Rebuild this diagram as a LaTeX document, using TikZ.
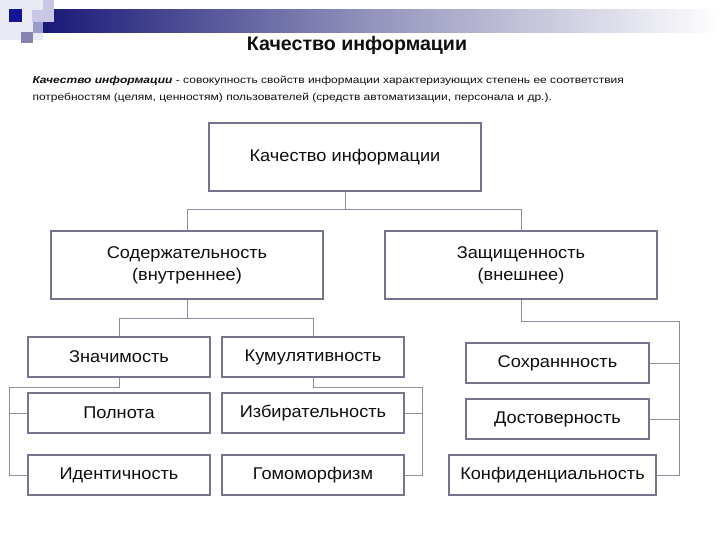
\documentclass[tikz,border=0pt]{standalone}
\usepackage{fontspec}
\setmainfont{Liberation Sans}
\newfontfamily\boxfont[FakeStretch=1.07]{Liberation Sans}
\newfontfamily\deffont[FakeStretch=1.2]{Liberation Sans}
\usetikzlibrary{positioning, calc}
\definecolor{barnavy}{RGB}{25, 25, 120}
\definecolor{barmid}{RGB}{150, 150, 190}
\definecolor{sqdark}{RGB}{20, 20, 150}
\definecolor{sqlight}{RGB}{200, 200, 228}
\definecolor{sqmid}{RGB}{155, 155, 205}
\definecolor{sqpale}{RGB}{234, 234, 245}
\definecolor{framegray}{RGB}{118, 116, 138}
\definecolor{wiregray}{RGB}{140, 140, 155}
\definecolor{ink}{RGB}{15, 15, 15}

\begin{document}
\begin{tikzpicture}[x=1pt, y=-1pt,
  qbox/.style={draw=framegray, line width=1.8pt, fill=white, align=center,
    font=\boxfont\fontsize{17}{22}\selectfont, text=ink, inner sep=0pt},
  bigbox/.style={qbox, minimum width=272pt, minimum height=68pt},
  smallbox/.style={qbox, minimum width=182pt, minimum height=40pt},
  link/.style={draw=wiregray, line width=0.8pt}]
  \useasboundingbox (0,0) rectangle (720,540);
  \fill[white] (0,0) rectangle (720,540);

  % Header bar
  \fill[sqpale] (0,0) rectangle (43,40);
  \shade[left color=barnavy, right color=barmid] (43,10) rectangle (380,33);
  \shade[left color=barmid, right color=white] (380,10) rectangle (720,33);
  \fill[sqlight] (32,10) rectangle (43,22);
  \fill[sqmid] (33,22) rectangle (43,33);
  \fill[sqlight] (43,0) rectangle (54,22);
  \fill[sqmid!85!black] (21,32) rectangle (33,43);
  \fill[sqdark] (9,9) rectangle (22,22);

  % Title and definition
  \node[font=\bfseries\fontsize{19.6}{22}\selectfont, text=ink] (title) at (357,45) {Качество информации};
  \node[anchor=west, align=left, font=\deffont\fontsize{10}{17}\selectfont, text=ink] (defn) at (29,89) {
    \textbf{\textit{Качество информации}} - совокупность свойств информации характеризующих степень ее соответствия\\
    потребностям (целям, ценностям) пользователей (средств автоматизации, персонала и др.).
  };

  % Top levels
  \node[bigbox] (quality) at (345,157) {Качество информации};
  \node[bigbox] (content) at (187,265) {Содержательность\\(внутреннее)};
  \node[bigbox] (protect) at (521,265) {Защищенность\\(внешнее)};

  % Content group
  \node[smallbox] (signif) at (119,357) {Значимость};
  \node[smallbox] (cumul) at (313,357) {Кумулятивность};
  \node[smallbox] (complete) at (119,413) {Полнота};
  \node[smallbox] (select) at (313,413) {Избирательность};
  \node[smallbox] (ident) at (119,475) {Идентичность};
  \node[smallbox] (homo) at (313,475) {Гомоморфизм};

  % Protection group
  \node[smallbox, minimum width=183pt] (safe) at (557.5,363) {Сохраннность};
  \node[smallbox, minimum width=183pt] (reliab) at (557.5,419) {Достоверность};
  \node[smallbox, minimum width=207pt] (confid) at (552.5,475) {Конфиденциальность};

  % Rails
  \coordinate (lrail) at (9,0);
  \coordinate (mrail) at (422,0);
  \coordinate (rrail) at (679,0);

  % Connectors
  \draw[link] (quality.south) -- ++(0,18) coordinate (qj);
  \draw[link] (content.north) |- (qj) -| (protect.north);
  \draw[link] (content.south) -- ++(0,18) coordinate (cj);
  \draw[link] (signif.north) |- (cj) -| (cumul.north);
  \draw[link] (signif.south) -- ++(0,9) -| (lrail |- ident.west) -- (ident.west);
  \draw[link] (lrail |- complete.west) -- (complete.west);
  \draw[link] (cumul.south) -- ++(0,9) -| (mrail |- homo.east) -- (homo.east);
  \draw[link] (mrail |- select.east) -- (select.east);
  \draw[link] (protect.south) -- ++(0,21) -| (rrail |- confid.east) -- (confid.east);
  \draw[link] (rrail |- safe.east) -- (safe.east);
  \draw[link] (rrail |- reliab.east) -- (reliab.east);
\end{tikzpicture}
\end{document}
